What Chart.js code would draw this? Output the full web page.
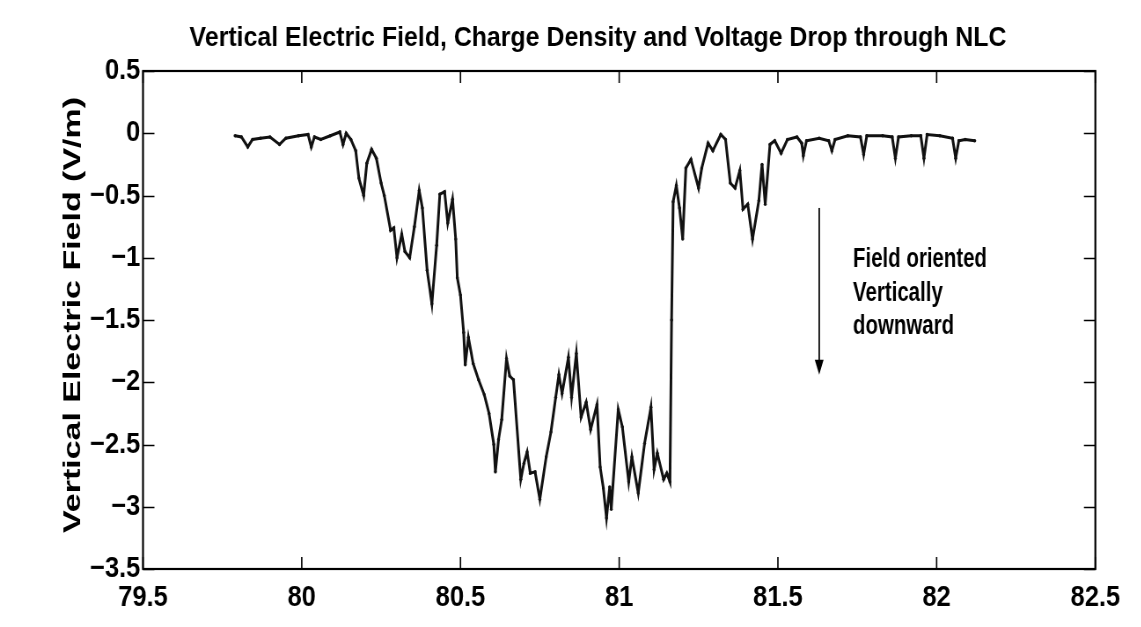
<!DOCTYPE html>
<html>
<head>
<meta charset="utf-8">
<script src="https://cdn.jsdelivr.net/npm/chart.js@4"></script>
<style>
  html, body { margin: 0; padding: 0; background: #fff; overflow: hidden; }
  /* the original figure is squeezed sideways, so the whole canvas is too */
  canvas { display: block; transform: scaleX(0.88); transform-origin: 0 0; }
</style>
</head>
<body>
<canvas id="myChart" width="1297" height="627"></canvas>
<script>
// distance along track (x) and vertical E-field in V/m (y)
var xValues = [79.79, 79.81, 79.83, 79.845, 79.87, 79.90, 79.93, 79.95, 79.99, 80.02, 80.03, 80.04, 80.06, 80.09,
    80.12, 80.13, 80.14, 80.155, 80.17, 80.18, 80.195, 80.205, 80.22, 80.235, 80.25, 80.26, 80.28, 80.29, 80.30,
    80.315, 80.325, 80.34, 80.355, 80.37, 80.38, 80.395, 80.41, 80.425, 80.435, 80.45, 80.46, 80.475, 80.485,
    80.49, 80.50, 80.51, 80.515, 80.525, 80.54, 80.557, 80.575, 80.59, 80.605, 80.61, 80.62, 80.63, 80.645,
    80.655, 80.667, 80.69, 80.70, 80.71, 80.72, 80.735, 80.75, 80.77, 80.785, 80.80, 80.81, 80.82, 80.84, 80.85,
    80.865, 80.88, 80.896, 80.91, 80.93, 80.94, 80.95, 80.96, 80.97, 80.975, 80.997, 81.01, 81.03, 81.04, 81.06,
    81.08, 81.10, 81.11, 81.12, 81.14, 81.15, 81.16, 81.165, 81.17, 81.18, 81.19, 81.20, 81.21, 81.226, 81.25,
    81.26, 81.28, 81.295, 81.32, 81.335, 81.35, 81.365, 81.38, 81.39, 81.405, 81.42, 81.44, 81.45, 81.46, 81.475,
    81.49, 81.51, 81.53, 81.56, 81.575, 81.58, 81.59, 81.63, 81.66, 81.67, 81.68, 81.72, 81.76, 81.77, 81.78,
    81.83, 81.86, 81.87, 81.88, 81.92, 81.95, 81.96, 81.97, 82.01, 82.05, 82.06, 82.07, 82.09, 82.12];
var fieldValues = [-0.02, -0.03, -0.11, -0.05, -0.04, -0.03, -0.09, -0.04, -0.02, -0.01, -0.11, -0.03, -0.05, -0.02,
    0.01, -0.09, 0.0, -0.05, -0.14, -0.36, -0.5, -0.24, -0.13, -0.2, -0.4, -0.5, -0.78, -0.76, -1.0,
    -0.81, -0.95, -1.0, -0.75, -0.46, -0.6, -1.1, -1.37, -0.9, -0.49, -0.47, -0.72, -0.53, -0.85,
    -1.16, -1.3, -1.6, -1.86, -1.64, -1.85, -1.98, -2.1, -2.25, -2.5, -2.72, -2.46, -2.3, -1.81,
    -1.95, -1.98, -2.78, -2.65, -2.56, -2.73, -2.72, -2.94, -2.6, -2.4, -2.12, -1.94, -2.09, -1.8, -2.12,
    -1.77, -2.28, -2.16, -2.38, -2.18, -2.68, -2.85, -3.09, -2.84, -3.02, -2.22, -2.36, -2.8, -2.6, -2.89,
    -2.49, -2.2, -2.7, -2.57, -2.78, -2.73, -2.8, -1.5, -0.55, -0.42, -0.6, -0.85, -0.28, -0.21, -0.44,
    -0.28, -0.08, -0.14, -0.01, -0.05, -0.4, -0.44, -0.3, -0.61, -0.57, -0.85, -0.54, -0.25, -0.57, -0.09,
    -0.06, -0.16, -0.05, -0.03, -0.08, -0.18, -0.06, -0.04, -0.06, -0.14, -0.05, -0.02, -0.03, -0.17, -0.02,
    -0.02, -0.03, -0.2, -0.03, -0.02, -0.02, -0.2, -0.01, -0.02, -0.04, -0.2, -0.06, -0.05, -0.06];
var xTicks = [79.5, 80, 80.5, 81, 81.5, 82, 82.5];
var yTicks = [0.5, 0, -0.5, -1, -1.5, -2, -2.5, -3, -3.5];

var titleText = "Vertical Electric Field, Charge Density and Voltage Drop through NLC";
var yTitleText = "Vertical Electric Field (V/m)";
var noteLines = ["Field oriented", "Vertically", "downward"];

var K = 0.88; // sideways squeeze set in the css
var sans = "'Liberation Sans', Arial, Helvetica, sans-serif";

function fmt(v) {
    var s = String(Math.abs(v));
    return v < 0 ? "\u2212" + s : s;
}

// draw text stretched along its own direction so it spans `len` px on screen
function fitText(ctx, text, x, y, len) {
    var w = ctx.measureText(text).width;
    ctx.save();
    ctx.translate(x, y);
    ctx.scale(len / w, 1);
    ctx.fillText(text, 0, 0);
    ctx.restore();
}

var points = xValues.map(function (x, i) { return { x: x, y: fieldValues[i] }; });

var matlabFrame = {
    id: "matlabFrame",
    afterDraw: function (chart) {
        var ctx = chart.ctx;
        var a = chart.chartArea;
        var xs = chart.scales.x, ys = chart.scales.y;
        ctx.save();
        ctx.strokeStyle = "#000";
        ctx.fillStyle = "#000";
        ctx.lineWidth = 2.2;
        ctx.strokeRect(a.left, a.top, a.right - a.left, a.bottom - a.top);
        ctx.lineWidth = 1.6;
        ctx.beginPath();
        xTicks.forEach(function (v) {
            var px = xs.getPixelForValue(v);
            ctx.moveTo(px, a.bottom); ctx.lineTo(px, a.bottom - 12);
            ctx.moveTo(px, a.top); ctx.lineTo(px, a.top + 12);
        });
        yTicks.forEach(function (v) {
            var py = Math.round(ys.getPixelForValue(v)) + 0.5;
            ctx.moveTo(a.left, py); ctx.lineTo(a.left + 13, py);
            ctx.moveTo(a.right, py); ctx.lineTo(a.right - 13, py);
        });
        ctx.stroke();

        // title
        ctx.font = "bold 27px " + sans;
        ctx.textAlign = "center";
        ctx.textBaseline = "alphabetic";
        fitText(ctx, titleText, 598 / K, 46, 817 / K);

        // y axis title, rotated
        ctx.save();
        ctx.translate(80 / K, 315);
        ctx.rotate(-Math.PI / 2);
        ctx.font = "bold 28px " + sans;
        fitText(ctx, yTitleText, 0, 0, 436);
        ctx.restore();

        // arrow and note
        var ax = xs.getPixelForValue(81.63);
        var ay0 = ys.getPixelForValue(-0.6);
        var ay1 = ys.getPixelForValue(-1.94);
        ctx.lineWidth = 1.8;
        ctx.beginPath();
        ctx.moveTo(ax, ay0); ctx.lineTo(ax, ay1 - 8);
        ctx.stroke();
        ctx.beginPath();
        ctx.moveTo(ax, ay1);
        ctx.lineTo(ax - 5, ay1 - 15);
        ctx.lineTo(ax + 5, ay1 - 15);
        ctx.closePath();
        ctx.fill();

        ctx.font = "bold 27px " + sans;
        ctx.textAlign = "left";
        var nx = 853 / K;
        var base = [267, 301, 334];
        ctx.save();
        ctx.translate(nx, 0);
        ctx.scale(0.86, 1);
        noteLines.forEach(function (t, i) {
            ctx.fillText(t, 0, base[i]);
        });
        ctx.restore();
        ctx.restore();
    }
};

var ctx = document.getElementById("myChart").getContext("2d");
var myChart = new Chart(ctx, {
    type: "scatter",
    data: {
        datasets: [
            {
                data: points,
                showLine: true,
                borderColor: "#111",
                backgroundColor: "#111",
                borderWidth: 3,
                pointRadius: 1.7,
                pointBorderWidth: 0,
                tension: 0,
            },
        ],
    },
    options: {
        responsive: false,
        animation: false,
        layout: { padding: { top: 71, right: 46 / K, left: 0, bottom: 0 } },
        plugins: {
            legend: { display: false },
            tooltip: { enabled: false },
            title: { display: false },
        },
        scales: {
            x: {
                type: "linear",
                min: 79.5,
                max: 82.5,
                grid: { display: false, drawTicks: false },
                border: { display: false },
                ticks: {
                    color: "#000",
                    font: { family: sans, size: 29, weight: "bold" },
                    padding: 12,
                    maxRotation: 0,
                    callback: function (v) { return fmt(v); },
                },
                afterBuildTicks: function (scale) {
                    scale.ticks = xTicks.map(function (v) { return { value: v }; });
                },
                afterFit: function (scale) { scale.height = 58; },
            },
            y: {
                type: "linear",
                min: -3.5,
                max: 0.5,
                grid: { display: false, drawTicks: false },
                border: { display: false },
                ticks: {
                    color: "#000",
                    font: { family: sans, size: 29, weight: "bold" },
                    padding: 3,
                    callback: function (v) { return fmt(v); },
                },
                afterBuildTicks: function (scale) {
                    scale.ticks = yTicks.map(function (v) { return { value: v }; });
                },
                afterFit: function (scale) { scale.width = 143 / K; },
            },
        },
    },
    plugins: [matlabFrame],
});
</script>
</body>
</html>
